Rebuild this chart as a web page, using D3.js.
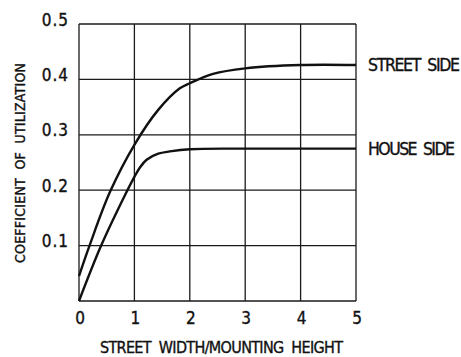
<!DOCTYPE html>
<html>
<head>
<meta charset="utf-8">
<script src="https://cdn.jsdelivr.net/npm/d3@7"></script>
<style>
  html, body { margin: 0; padding: 0; background: #fff; }
  svg { display: block; }
  text { font-family: "Liberation Sans Narrow", "DejaVu Sans Condensed", "Arial Narrow", sans-serif; fill: #111; stroke: #111; stroke-width: 0.35px; white-space: pre; }
</style>
</head>
<body>
<svg id="chart" width="461" height="357"></svg>
<script>
// Coefficient of utilization curves (street side and house side)
const xTicks = [0, 1, 2, 3, 4, 5];
const yTicks = [0.1, 0.2, 0.3, 0.4, 0.5];
const yTickLabels = ["0.1", "0.2", "0.3", "0.4", "0.5"];

const streetX = [0, 0.19, 0.56, 1, 1.43, 1.82, 2, 2.42, 3, 4, 5];
const streetY = [0.045, 0.1, 0.197, 0.282, 0.345, 0.384, 0.393, 0.41, 0.42, 0.426, 0.426];

const houseX = [0, 0.4, 0.8, 1, 1.1, 1.22, 1.43, 1.64, 2, 3, 5];
const houseY = [0, 0.1, 0.185, 0.224, 0.241, 0.255, 0.266, 0.27, 0.274, 0.275, 0.275];

const seriesNames = ["STREET  SIDE", "HOUSE  SIDE"];
const xTitle = "STREET  WIDTH/MOUNTING  HEIGHT";
const yTitle = "COEFFICIENT  OF  UTILIZATION";

const svg = d3.select("#chart");
const margin = { left: 79, top: 24, right: 105, bottom: 56 };
const W = 461, H = 357;

const x = d3.scaleLinear().domain([0, 5]).range([margin.left, W - margin.right]);
const y = d3.scaleLinear().domain([0, 0.5]).range([H - margin.bottom, margin.top]);

const ink = "#1a1a1a";

// grid
const grid = svg.append("g");
grid.selectAll("line.v").data(xTicks).join("line")
  .attr("x1", d => x(d)).attr("x2", d => x(d))
  .attr("y1", y(0)).attr("y2", y(0.5))
  .attr("stroke", ink).attr("stroke-width", 1.3);
grid.selectAll("line.h").data([0].concat(yTicks)).join("line")
  .attr("y1", d => y(d)).attr("y2", d => y(d))
  .attr("x1", x(0)).attr("x2", x(5))
  .attr("stroke", ink).attr("stroke-width", 1.3);

// tick labels
svg.append("g").selectAll("text").data(xTicks).join("text")
  .attr("x", d => x(d) + 1).attr("y", y(0) + 23)
  .attr("text-anchor", "middle")
  .attr("font-size", 17)
  .text(d => d);

svg.append("g").selectAll("text").data(yTicks).join("text")
  .attr("x", 69).attr("y", d => y(d) + 1.5)
  .attr("text-anchor", "end")
  .attr("font-size", 17)
  .attr("letter-spacing", 1)
  .text((d, i) => yTickLabels[i]);

// curves
const line = d3.line().x(d => x(d[0])).y(d => y(d[1])).curve(d3.curveCatmullRom.alpha(0.5));
const series = [d3.zip(streetX, streetY), d3.zip(houseX, houseY)];
svg.append("g").selectAll("path").data(series).join("path")
  .attr("d", line)
  .attr("fill", "none")
  .attr("stroke", "#111")
  .attr("stroke-width", 2.4);

// series labels at the right end of each curve
svg.append("g").selectAll("text").data(series).join("text")
  .attr("x", 368)
  .attr("y", d => y(d[d.length - 1][1]) + 6.5)
  .attr("font-size", 17.5)
  .attr("textLength", (d, i) => i === 0 ? 92 : 87)
  .attr("lengthAdjust", "spacing")
  .text((d, i) => seriesNames[i]);

// axis titles
svg.append("text")
  .attr("x", 100).attr("y", 353)
  .attr("font-size", 16)
  .attr("textLength", 243)
  .attr("lengthAdjust", "spacing")
  .text(xTitle);

svg.append("text")
  .attr("transform", "translate(25,263) rotate(-90)")
  .attr("font-size", 14)
  .attr("textLength", 200)
  .attr("lengthAdjust", "spacing")
  .text(yTitle);
</script>
</body>
</html>
